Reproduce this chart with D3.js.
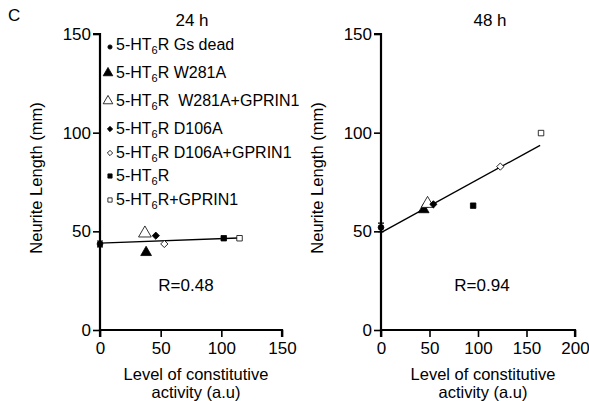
<!DOCTYPE html>
<html>
<head>
<meta charset="utf-8">
<script src="https://cdn.jsdelivr.net/npm/d3@7"></script>
<style>
  body { margin: 0; background: #fff; }
  svg { font-family: "Liberation Sans", Arial, Helvetica, sans-serif; }
</style>
</head>
<body>
<svg id="chart"></svg>
<script>
// Groups (legend order) and marker styles
const groups = ["Gs dead", "W281A", " W281A+GPRIN1", "D106A", "D106A+GPRIN1", "", "+GPRIN1"];
const groupSymbols = ["circle", "triangle", "triangle", "diamond", "diamond", "square", "square"];
const groupFilled = [true, true, false, true, false, true, false];

// 24 h panel values
const act24 = [0, 38, 37, 46, 53, 102, 115];
const len24 = [43.6, 39.3, 49, 47.8, 43.6, 46.5, 46.5];
const err24 = [1.5, 0, 0, 0, 0, 0, 0];
const fit24 = [[0, 44], [114, 46.6]];

// 48 h panel values
const act48 = [0, 44, 48, 54, 123, 95, 165];
const len48 = [52, 61, 64, 63.7, 82.8, 63, 99.8];
const err48 = [2.2, 0, 0, 0, 0, 0, 0];
const fit48 = [[0, 49.3], [164, 93.6]];

const yTicks = [0, 50, 100, 150];
const xTicks24 = [0, 50, 100, 150];
const xTicks48 = [0, 50, 100, 150, 200];

const W = 589, H = 401;
const svg = d3.select("#chart").attr("width", W).attr("height", H);

const symbolTypes = {
    circle: d3.symbolCircle,
    triangle: d3.symbolTriangle,
    diamond: d3.symbolSquare,
    square: d3.symbolSquare
};

function marker(g, i, size, cx, cy) {
    const type = groupSymbols[i];
    g.append("path")
        .attr("d", d3.symbol(symbolTypes[type], size)())
        .attr("transform", `translate(${cx},${cy})` + (type === "diamond" ? " rotate(45)" : ""))
        .attr("fill", groupFilled[i] ? "#000" : "#fff")
        .attr("stroke", "#000")
        .attr("stroke-width", 0.8);
}

const markerSize = { circle: 26, triangle: 50, diamond: 26, square: 30 };

function panel(opts) {
    const g = svg.append("g");
    const x = d3.scaleLinear().domain(opts.xDomain).range([opts.left, opts.right]);
    const y = d3.scaleLinear().domain([0, 150]).range([330, 34]);

    const yAxis = g.append("g")
        .attr("transform", `translate(${opts.left},0)`)
        .call(d3.axisLeft(y).tickValues(yTicks).tickSize(7).tickPadding(2));
    const xAxis = g.append("g")
        .attr("transform", `translate(0,330)`)
        .call(d3.axisBottom(x).tickValues(opts.xTicks).tickSize(7).tickPadding(5));
    [yAxis, xAxis].forEach(a => {
        a.select(".domain").attr("stroke-width", 2.2);
        a.selectAll(".tick line").attr("stroke-width", 1.6);
        a.selectAll("text").attr("font-size", 17).attr("fill", "#000")
            .attr("font-family", "Liberation Sans, Arial, sans-serif");
    });
    yAxis.select(".domain").attr("d", `M-7,${y(150)}H0V${y(0)}`);
    xAxis.select(".domain").attr("d", `M${x(opts.xDomain[0])},7V0H${x(opts.xDomain[1])}V7`);

    // regression line
    g.append("line")
        .attr("x1", x(opts.fit[0][0])).attr("y1", y(opts.fit[0][1]))
        .attr("x2", x(opts.fit[1][0])).attr("y2", y(opts.fit[1][1]))
        .attr("stroke", "#000").attr("stroke-width", 1.4);

    // error bars
    opts.act.forEach((a, i) => {
        if (!opts.err[i]) return;
        const cx = x(a);
        g.append("path")
            .attr("d", `M${cx},${y(opts.len[i] - opts.err[i])}V${y(opts.len[i] + opts.err[i])}` +
                `M${cx - 3},${y(opts.len[i] - opts.err[i])}h6M${cx - 3},${y(opts.len[i] + opts.err[i])}h6`)
            .attr("stroke", "#000").attr("stroke-width", 1.2).attr("fill", "none");
    });

    // points
    opts.act.forEach((a, i) => {
        let s = markerSize[groupSymbols[i]];
        if (groupSymbols[i] === "triangle" && !groupFilled[i]) s = 70;
        marker(g, i, s, x(a), y(opts.len[i]));
    });

    const cx = (opts.left + opts.right) / 2;
    g.append("text").attr("x", opts.titleX).attr("y", 26)
        .attr("text-anchor", "middle").attr("font-size", 17).text(opts.title);
    g.append("text").attr("x", opts.rX).attr("y", 291)
        .attr("text-anchor", "middle").attr("font-size", 17).text(opts.r);
    g.append("text").attr("x", cx + 5).attr("y", 380)
        .attr("text-anchor", "middle").attr("font-size", 16.5).text("Level of constitutive");
    g.append("text").attr("x", cx + 5).attr("y", 398)
        .attr("text-anchor", "middle").attr("font-size", 16.5).text("activity (a.u)");
    g.append("text")
        .attr("transform", `translate(${opts.left - 58},178) rotate(-90)`)
        .attr("text-anchor", "middle").attr("font-size", 16.5).text("Neurite Length (mm)");
}

panel({
    xDomain: [0, 150], left: 100, right: 282, xTicks: xTicks24,
    act: act24, len: len24, err: err24, fit: fit24,
    title: "24 h", titleX: 192, r: "R=0.48", rX: 186
});
panel({
    xDomain: [0, 200], left: 381, right: 575, xTicks: xTicks48,
    act: act48, len: len48, err: err48, fit: fit48,
    title: "48 h", titleX: 490, r: "R=0.94", rX: 482
});

svg.append("text").attr("x", 8).attr("y", 21).attr("font-size", 17).text("C");

// legend
const legendY = [45, 73, 101, 129, 153, 176, 200];
const legendMarkerSize = { circle: 14, triangle: 40, diamond: 14, square: 18 };
const legend = svg.append("g");
groups.forEach((name, i) => {
    const ly = legendY[i];
    let mx = 110;
    if (groupSymbols[i] === "triangle") mx = 108;
    marker(legend, i, legendMarkerSize[groupSymbols[i]], mx, ly + (groupSymbols[i] === "circle" ? 2 : 0));
    const t = legend.append("text").attr("x", 116).attr("y", ly + 5)
        .attr("font-size", 16).style("white-space", "pre");
    t.append("tspan").text("5-HT");
    t.append("tspan").attr("font-size", 11).attr("dy", 4).text("6");
    t.append("tspan").attr("dy", -4).text("R" + (name.startsWith("+") ? "" : " ") + name);
});
</script>
</body>
</html>
